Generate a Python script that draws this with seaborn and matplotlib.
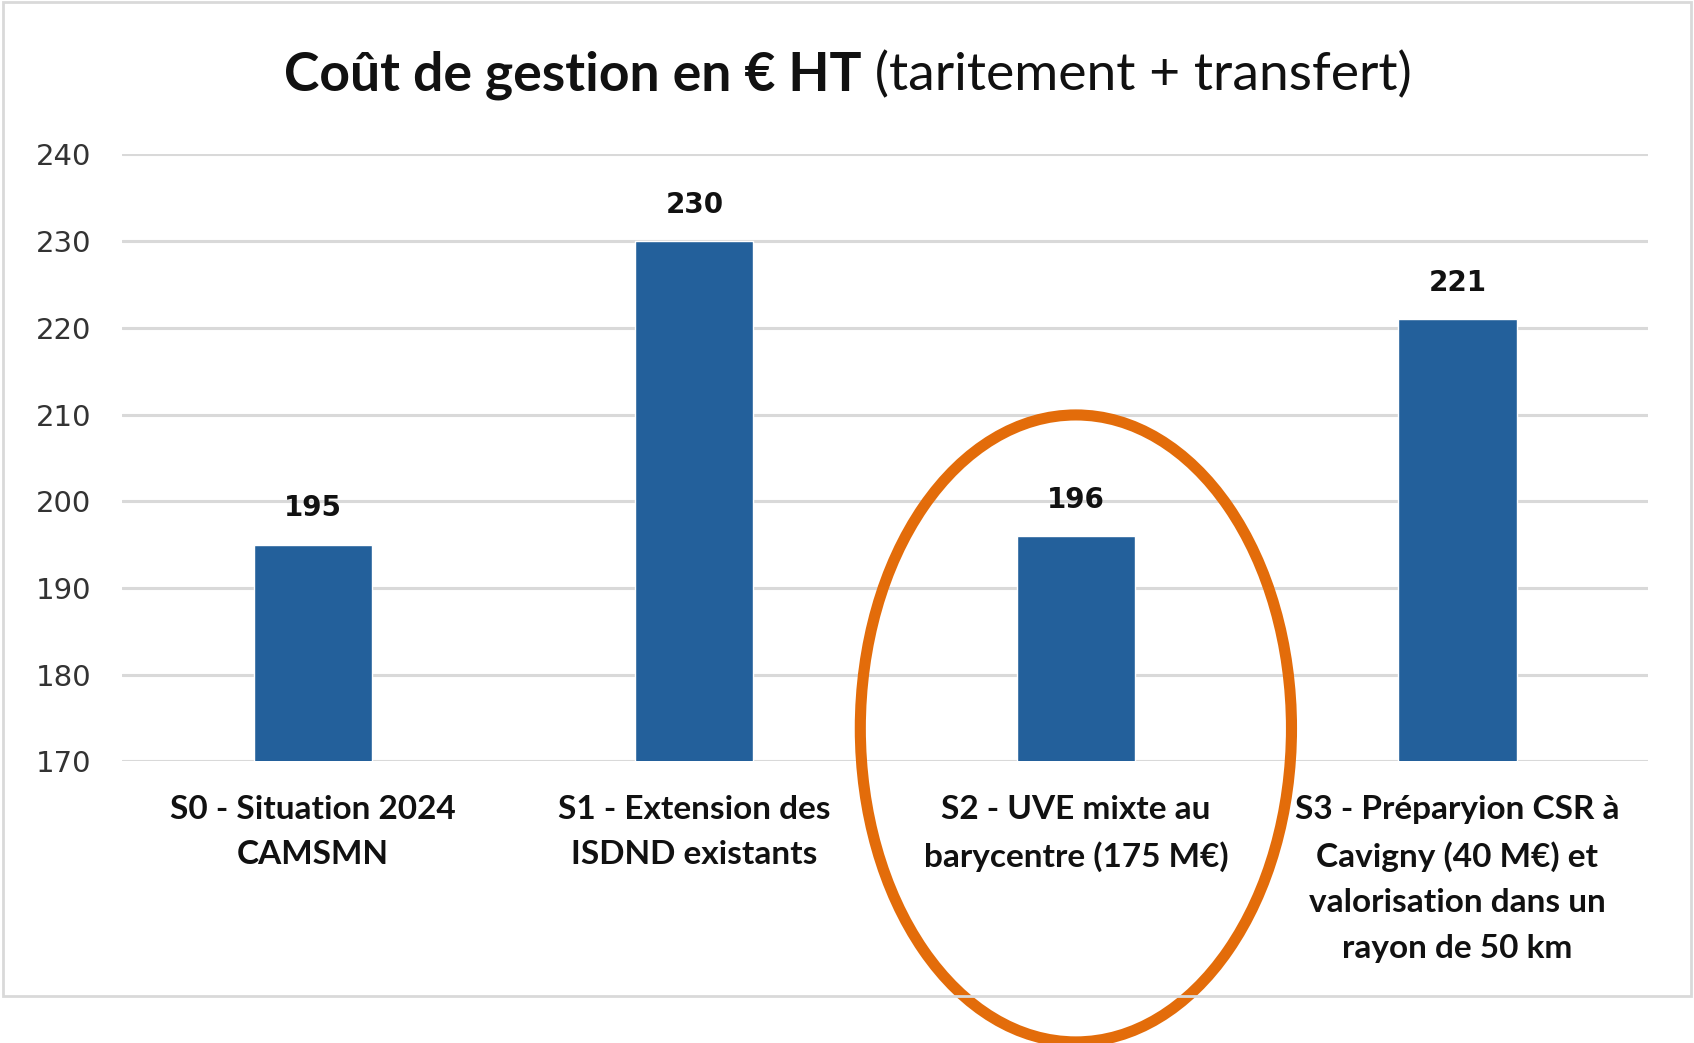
import matplotlib
matplotlib.use("Agg")
import matplotlib.pyplot as plt
from matplotlib.patches import Ellipse, Rectangle
import seaborn as sns
import pandas as pd

# =========================================================
# データ
# =========================================================
scenarios = [
    "S0 - Situation 2024\nCAMSMN",
    "S1 - Extension des\nISDND existants",
    "S2 - UVE mixte au\nbarycentre (175 M€)",
    "S3 - Préparyion CSR à\nCavigny (40 M€) et\nvalorisation dans un\nrayon de 50 km",
]
costs = [195, 230, 196, 221]
highlight = "S2 - UVE mixte au\nbarycentre (175 M€)"

df = pd.DataFrame({"scenario": scenarios, "cost": costs})

BAR_COLOR = "#23609B"
GRID_COLOR = "#D9D9D9"
ORANGE = "#E36C0A"

sns.set_theme(style="white")
plt.rcParams["font.family"] = ["DejaVu Sans"]

fig = plt.figure(figsize=(16.94, 10.43), dpi=100)
ax = fig.add_axes([0.072, 0.270, 0.901, 0.582])

sns.barplot(data=df, x="scenario", y="cost", color=BAR_COLOR,
            width=0.31, saturation=1, ax=ax, zorder=3)

ax.set_ylim(170, 240)
ax.set_xlim(-0.5, len(scenarios) - 0.5)
ax.set_yticks(range(170, 241, 10))
ax.yaxis.grid(True, color=GRID_COLOR, linewidth=2.2, zorder=0)
ax.xaxis.grid(False)
ax.set_axisbelow(True)
for s in ax.spines.values():
    s.set_visible(False)
ax.set_xlabel("")
ax.set_ylabel("")
ax.tick_params(axis="y", length=0, pad=22, labelsize=21, labelcolor="#333333")
ax.tick_params(axis="x", length=0, pad=24)
ax.set_xticks(range(len(scenarios)))
ax.set_xticklabels(scenarios, fontsize=24, fontweight="bold",
                   family=["Lato", "DejaVu Sans"], linespacing=1.68,
                   color="#111111")

# 値ラベル
for i, v in enumerate(costs):
    ax.annotate(f"{v}", xy=(i, v), xytext=(0, 16), textcoords="offset points",
                ha="center", va="bottom", fontsize=20, fontweight="bold",
                color="#111111")

# 強調の楕円
hi = scenarios.index(highlight)
ax.add_patch(Ellipse((hi, 173.8), width=1.13, height=72.3, fill=False,
                     edgecolor=ORANGE, linewidth=8, clip_on=False, zorder=5))

# 外枠
fig.patches.append(Rectangle((3 / 1694, 1 - 996 / 1043), 1688 / 1694, 994 / 1043,
                             transform=fig.transFigure, fill=False,
                             edgecolor=GRID_COLOR, linewidth=2, zorder=0))

# タイトル（太字部分 + 通常部分）
fig.canvas.draw()
r = fig.canvas.get_renderer()
ty = 1 - 90 / 1043
t1 = fig.text(0, ty, "Coût de gestion en € HT", fontsize=38.5, fontweight="bold",
              family=["Lato", "DejaVu Sans"], va="baseline", ha="left", color="#111111")
t2 = fig.text(0, ty, " (taritement + transfert)", fontsize=38.5,
              family=["Lato", "DejaVu Sans"], va="baseline", ha="left", color="#111111")
w1 = t1.get_window_extent(r).width
w2 = t2.get_window_extent(r).width
x0 = 848 - (w1 + w2) / 2
t1.set_x(x0 / 1694)
t2.set_x((x0 + w1) / 1694)

fig.savefig("out.png", dpi=100, facecolor="white")
